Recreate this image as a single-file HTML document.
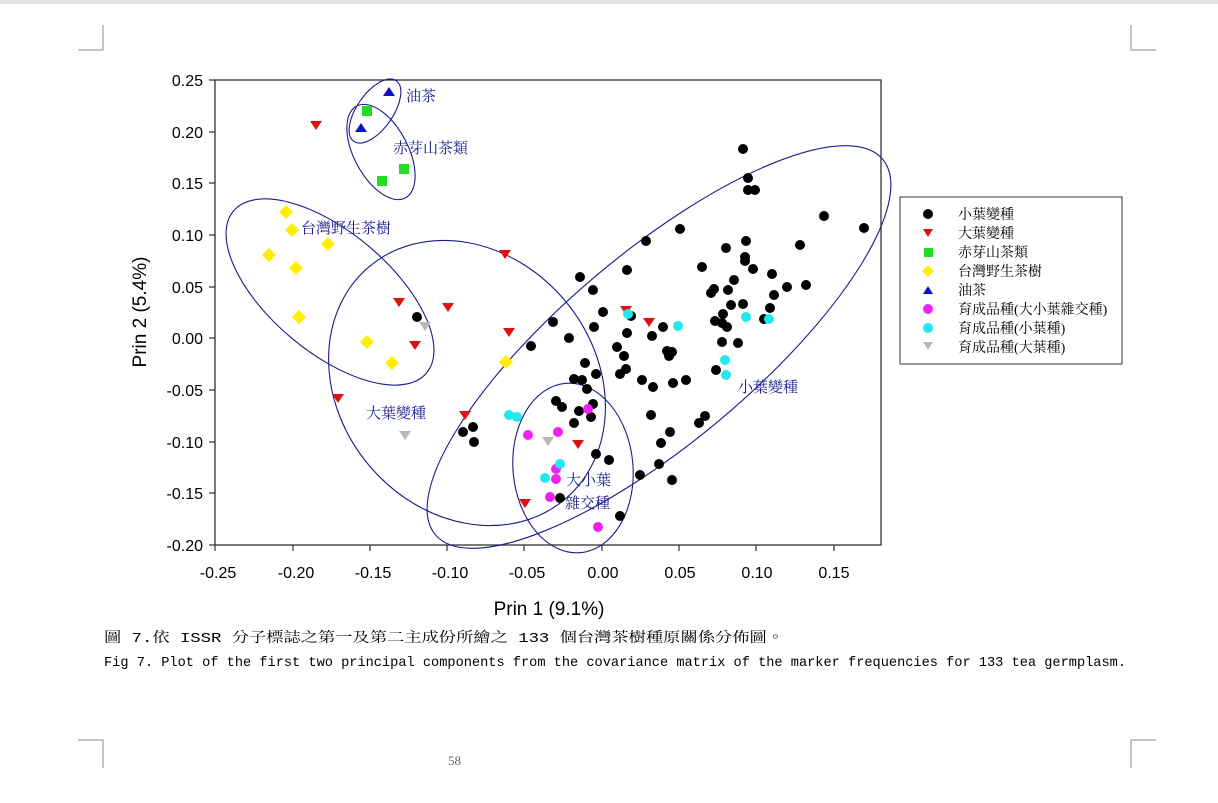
<!DOCTYPE html>
<html><head><meta charset="utf-8"><style>
body{margin:0;background:#fff;width:1218px;height:803px;overflow:hidden;position:relative}
svg{position:absolute;left:0;top:0}
</style></head><body>
<svg width="1218" height="803" xmlns="http://www.w3.org/2000/svg" font-family="Liberation Sans, Noto Sans CJK TC, sans-serif">
<rect x="0" y="0" width="1218" height="4" fill="#e0e0e0"/>
<g stroke="#888" stroke-width="1" fill="none">
<path d="M103 25V50H78"/><path d="M1131 25V50H1156"/>
<path d="M78 740H103V768"/><path d="M1131 768V740H1156"/>
</g>
<rect x="215" y="80" width="666" height="465" fill="none" stroke="#333" stroke-width="1.3"/>
<g stroke="#333" stroke-width="1.2">
<path d="M215 545v6M293 545v6M370 545v6M447 545v6M524 545v6M602 545v6M679 545v6M756 545v6M834 545v6"/>
<path d="M215 80h-6M215 132h-6M215 183h-6M215 235h-6M215 287h-6M215 338h-6M215 390h-6M215 442h-6M215 493h-6M215 545h-6"/>
</g>
<g font-size="16" fill="#000" text-anchor="end">
<text x="203" y="86">0.25</text><text x="203" y="138">0.20</text><text x="203" y="189">0.15</text>
<text x="203" y="241">0.10</text><text x="203" y="293">0.05</text><text x="203" y="344">0.00</text>
<text x="203" y="396">-0.05</text><text x="203" y="448">-0.10</text><text x="203" y="499">-0.15</text>
<text x="203" y="551">-0.20</text>
</g>
<g font-size="16" fill="#000" text-anchor="middle">
<text x="218" y="578">-0.25</text><text x="296" y="578">-0.20</text><text x="373" y="578">-0.15</text>
<text x="450" y="578">-0.10</text><text x="527" y="578">-0.05</text><text x="603" y="578">0.00</text>
<text x="680" y="578">0.05</text><text x="757" y="578">0.10</text><text x="834" y="578">0.15</text>
</g>
<text x="549" y="615" font-size="19" text-anchor="middle">Prin 1 (9.1%)</text>
<text transform="translate(146,312) rotate(-90)" font-size="19" text-anchor="middle">Prin 2 (5.4%)</text>
<g fill="none" stroke="#1a1a8c" stroke-width="1.1">
<ellipse cx="375" cy="111" rx="37" ry="18" transform="rotate(-55 375 111)"/>
<ellipse cx="381" cy="152" rx="52" ry="27" transform="rotate(62 381 152)"/>
<ellipse cx="330" cy="292" rx="126" ry="60" transform="rotate(40 330 292)"/>
<ellipse cx="467" cy="383" rx="152" ry="128" transform="rotate(50 467 383)"/>
<ellipse cx="659" cy="347" rx="292" ry="95" transform="rotate(-40 659 347)"/>
<ellipse cx="573" cy="468" rx="60" ry="85" transform="rotate(-5 573 468)"/>
</g>
<g fill="#000">
<circle cx="743" cy="149" r="5"/><circle cx="748" cy="178" r="5"/><circle cx="748" cy="190" r="5"/><circle cx="755" cy="190" r="5"/>
<circle cx="824" cy="216" r="5"/><circle cx="864" cy="228" r="5"/><circle cx="680" cy="229" r="5"/><circle cx="646" cy="241" r="5"/>
<circle cx="746" cy="241" r="5"/><circle cx="726" cy="248" r="5"/><circle cx="800" cy="245" r="5"/><circle cx="702" cy="267" r="5"/>
<circle cx="745" cy="257" r="5"/><circle cx="745" cy="261" r="5"/><circle cx="753" cy="269" r="5"/><circle cx="627" cy="270" r="5"/>
<circle cx="772" cy="274" r="5"/><circle cx="734" cy="280" r="5"/><circle cx="787" cy="287" r="5"/><circle cx="806" cy="285" r="5"/>
<circle cx="580" cy="277" r="5"/><circle cx="593" cy="290" r="5"/><circle cx="714" cy="289" r="5"/><circle cx="711" cy="293" r="5"/>
<circle cx="728" cy="290" r="5"/><circle cx="774" cy="295" r="5"/><circle cx="731" cy="305" r="5"/><circle cx="743" cy="304" r="5"/>
<circle cx="770" cy="308" r="5"/><circle cx="764" cy="319" r="5"/><circle cx="723" cy="314" r="5"/><circle cx="715" cy="321" r="5"/>
<circle cx="722" cy="323" r="5"/><circle cx="727" cy="327" r="5"/><circle cx="603" cy="312" r="5"/><circle cx="631" cy="316" r="5"/>
<circle cx="663" cy="327" r="5"/><circle cx="652" cy="336" r="5"/><circle cx="627" cy="333" r="5"/><circle cx="553" cy="322" r="5"/>
<circle cx="594" cy="327" r="5"/><circle cx="569" cy="338" r="5"/><circle cx="531" cy="346" r="5"/><circle cx="722" cy="342" r="5"/>
<circle cx="738" cy="343" r="5"/><circle cx="617" cy="347" r="5"/><circle cx="624" cy="356" r="5"/><circle cx="667" cy="351" r="5"/>
<circle cx="672" cy="352" r="5"/><circle cx="669" cy="356" r="5"/><circle cx="585" cy="363" r="5"/><circle cx="596" cy="374" r="5"/>
<circle cx="626" cy="369" r="5"/><circle cx="620" cy="374" r="5"/><circle cx="574" cy="379" r="5"/><circle cx="582" cy="380" r="5"/>
<circle cx="587" cy="389" r="5"/><circle cx="642" cy="380" r="5"/><circle cx="653" cy="387" r="5"/><circle cx="673" cy="383" r="5"/>
<circle cx="686" cy="380" r="5"/><circle cx="716" cy="370" r="5"/><circle cx="556" cy="401" r="5"/><circle cx="562" cy="407" r="5"/>
<circle cx="593" cy="404" r="5"/><circle cx="579" cy="411" r="5"/><circle cx="591" cy="417" r="5"/><circle cx="574" cy="423" r="5"/>
<circle cx="651" cy="415" r="5"/><circle cx="705" cy="416" r="5"/><circle cx="699" cy="423" r="5"/><circle cx="670" cy="432" r="5"/>
<circle cx="661" cy="443" r="5"/><circle cx="596" cy="454" r="5"/><circle cx="609" cy="460" r="5"/><circle cx="659" cy="464" r="5"/>
<circle cx="640" cy="475" r="5"/><circle cx="672" cy="480" r="5"/><circle cx="560" cy="498" r="5"/><circle cx="620" cy="516" r="5"/>
<circle cx="417" cy="317" r="5"/><circle cx="463" cy="432" r="5"/><circle cx="473" cy="427" r="5"/><circle cx="474" cy="442" r="5"/>
</g>
<g fill="#e01010">
<path d="M310 121h12l-6 9z"/><path d="M499 250h12l-6 9z"/><path d="M393 298h12l-6 9z"/><path d="M442 303h12l-6 9z"/>
<path d="M409 341h12l-6 9z"/><path d="M503 328h12l-6 9z"/><path d="M332 394h12l-6 9z"/><path d="M459 411h12l-6 9z"/>
<path d="M519 499h12l-6 9z"/><path d="M572 440h12l-6 9z"/><path d="M620 306h12l-6 9z"/><path d="M643 318h12l-6 9z"/>
</g>
<g fill="#b8b8b8">
<path d="M419 322h12l-6 9z"/><path d="M399 431h12l-6 9z"/><path d="M542 437h12l-6 9z"/>
</g>
<g fill="#22dd22">
<rect x="362" y="106" width="10" height="10"/><rect x="399" y="164" width="10" height="10"/><rect x="377" y="176" width="10" height="10"/>
</g>
<g fill="#1010cc">
<path d="M383 96h12l-6-9z"/><path d="M355 132h12l-6-9z"/>
</g>
<g fill="#ffee00">
<path d="M286 205l7 7-7 7-7-7z"/><path d="M292 223l7 7-7 7-7-7z"/><path d="M328 237l7 7-7 7-7-7z"/>
<path d="M269 248l7 7-7 7-7-7z"/><path d="M296 261l7 7-7 7-7-7z"/><path d="M299 310l7 7-7 7-7-7z"/>
<path d="M367 335l7 7-7 7-7-7z"/><path d="M392 356l7 7-7 7-7-7z"/><path d="M506 355l7 7-7 7-7-7z"/>
</g>
<g fill="#ee22ee">
<circle cx="588" cy="409" r="5"/><circle cx="528" cy="435" r="5"/><circle cx="558" cy="432" r="5"/>
<circle cx="556" cy="469" r="5"/><circle cx="556" cy="479" r="5"/><circle cx="550" cy="497" r="5"/><circle cx="598" cy="527" r="5"/>
</g>
<g fill="#22e8ee">
<circle cx="509" cy="415" r="5"/><circle cx="517" cy="417" r="5"/><circle cx="560" cy="464" r="5"/><circle cx="545" cy="478" r="5"/>
<circle cx="628" cy="314" r="5"/><circle cx="678" cy="326" r="5"/><circle cx="746" cy="317" r="5"/><circle cx="769" cy="319" r="5"/>
<circle cx="725" cy="360" r="5"/><circle cx="726" cy="375" r="5"/>
</g>
<g font-family="Liberation Serif, Noto Serif CJK SC, serif" font-size="15" fill="#1a1a8c">
<text x="406" y="101">油茶</text>
<text x="393" y="153">赤芽山茶類</text>
<text x="301" y="233">台灣野生茶樹</text>
<text x="366" y="418">大葉變種</text>
<text x="738" y="392">小葉變種</text>
<text x="566" y="485">大小葉</text>
<text x="565" y="508">雜交種</text>
</g>
<rect x="900" y="197" width="222" height="167" fill="#fff" stroke="#333" stroke-width="1"/>
<circle cx="928" cy="214" r="5" fill="#000"/>
<path d="M923 229h10l-5 8z" fill="#e01010"/>
<rect x="924" y="248" width="9" height="9" fill="#22dd22"/>
<path d="M928 265l6 6-6 6-6-6z" fill="#ffee00"/>
<path d="M923 294h10l-5-8z" fill="#1010cc"/>
<circle cx="928" cy="309" r="5" fill="#ee22ee"/>
<circle cx="928" cy="328" r="5" fill="#22e8ee"/>
<path d="M923 342h10l-5 8z" fill="#b8b8b8"/>
<g font-family="Liberation Serif, Noto Serif CJK TC, serif" font-size="14" fill="#000">
<text x="958" y="219">小葉變種</text><text x="958" y="238">大葉變種</text><text x="958" y="257">赤芽山茶類</text>
<text x="958" y="276">台灣野生茶樹</text><text x="958" y="295">油茶</text><text x="958" y="314">育成品種(大小葉雜交種)</text>
<text x="958" y="333">育成品種(小葉種)</text><text x="958" y="352">育成品種(大葉種)</text>
</g>
<g font-family="Liberation Mono, Noto Serif CJK TC, monospace" font-size="14" fill="#000">
<text x="104" y="642" textLength="680" lengthAdjust="spacingAndGlyphs">圖 7.依 ISSR 分子標誌之第一及第二主成份所繪之 133 個台灣茶樹種原關係分佈圖。</text>
<text x="104" y="666" textLength="1022" lengthAdjust="spacingAndGlyphs">Fig 7. Plot of the first two principal components from the covariance matrix of the marker frequencies for 133 tea germplasm.</text>
</g>
<text x="448" y="765" font-family="Liberation Serif, serif" font-size="13" fill="#666">58</text>
</svg>
</body></html>
